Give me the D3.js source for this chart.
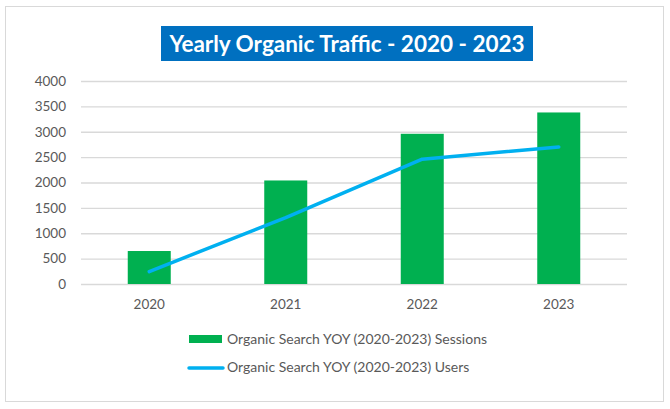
<!DOCTYPE html>
<html>
<head>
<meta charset="utf-8">
<script src="https://cdn.jsdelivr.net/npm/d3@7"></script>
<style>
  body { margin: 0; background: #fff; }
  text { font-family: "Source Sans Pro", Lato, "Noto Sans", sans-serif; }
</style>
</head>
<body>
<svg id="chart" width="670" height="409"></svg>
<script>
let years = ["2020", "2021", "2022", "2023"];
let sessions = [650, 2040, 2960, 3380];
let users = [245, 1310, 2460, 2700];
let y_ticks = [0, 500, 1000, 1500, 2000, 2500, 3000, 3500, 4000];
let title_text = "Yearly Organic Traffic - 2020 - 2023";
let legend_labels = ["Organic Search YOY (2020-2023) Sessions", "Organic Search YOY (2020-2023) Users"];

let svg = d3.select("#chart");

let plot_left = 81, plot_right = 627, plot_top = 81, plot_bottom = 284;

// outer frame
svg.append("rect")
    .attr("x", 5.5).attr("y", 6.5)
    .attr("width", 658).attr("height", 395)
    .attr("fill", "#fff")
    .attr("stroke", "#d9d9d9");

let x = d3.scaleBand().domain(years).range([plot_left, plot_right]).paddingInner(0.685).paddingOuter(0.3425);
let y = d3.scaleLinear().domain([0, 4000]).range([plot_bottom, plot_top]);

// gridlines + y labels
let yAxis = svg.append("g")
    .attr("transform", `translate(${plot_left},0)`)
    .call(d3.axisLeft(y).tickValues(y_ticks).tickFormat(d3.format("d"))
        .tickSize(-(plot_right - plot_left)).tickPadding(15));
yAxis.select(".domain").remove();
yAxis.selectAll(".tick line").attr("stroke", "#d9d9d9").attr("stroke-width", 1.3);
yAxis.selectAll(".tick text").attr("fill", "#595959").style("font-size", "13.5px")
    .style("font-family", "\"Source Sans Pro\", Lato, \"Noto Sans\", sans-serif");

// x labels
let xAxis = svg.append("g")
    .attr("transform", `translate(0,${plot_bottom})`)
    .call(d3.axisBottom(x).tickSize(0).tickPadding(15));
xAxis.select(".domain").remove();
xAxis.selectAll(".tick text").attr("fill", "#595959").style("font-size", "13.5px")
    .style("font-family", "\"Source Sans Pro\", Lato, \"Noto Sans\", sans-serif");

// bars
svg.append("g")
    .selectAll("rect")
    .data(sessions)
    .join("rect")
    .attr("x", (d, i) => x(years[i]))
    .attr("y", d => y(d))
    .attr("width", x.bandwidth())
    .attr("height", d => y(0) - y(d))
    .attr("fill", "#00b050");

// line
let line = d3.line()
    .x((d, i) => x(years[i]) + x.bandwidth() / 2)
    .y(d => y(d));
svg.append("path")
    .datum(users)
    .attr("d", line)
    .attr("fill", "none")
    .attr("stroke", "#00b0f0")
    .attr("stroke-width", 3.5)
    .attr("stroke-linecap", "round")
    .attr("stroke-linejoin", "round");

// title
let title = svg.append("g");
title.append("rect")
    .attr("x", 161).attr("y", 26)
    .attr("width", 372).attr("height", 35)
    .attr("fill", "#0070c0");
title.append("text")
    .attr("x", 347).attr("y", 51.5)
    .attr("text-anchor", "middle")
    .attr("fill", "#fff")
    .style("font-size", "22.5px")
    .style("font-weight", "bold")
    .text(title_text);

// legend
let legend = svg.append("g");
legend.append("rect")
    .attr("x", 189).attr("y", 335)
    .attr("width", 33).attr("height", 8)
    .attr("fill", "#00b050");
legend.append("line")
    .attr("x1", 189).attr("x2", 223)
    .attr("y1", 368).attr("y2", 368)
    .attr("stroke", "#00b0f0")
    .attr("stroke-width", 3.5)
    .attr("stroke-linecap", "round");
legend.selectAll("text.leg")
    .data(legend_labels)
    .join("text")
    .attr("class", "leg")
    .attr("x", 227)
    .attr("y", (d, i) => 344 + i * 28)
    .attr("fill", "#595959")
    .style("font-size", "14px")
    .text(d => d);
</script>
</body>
</html>
